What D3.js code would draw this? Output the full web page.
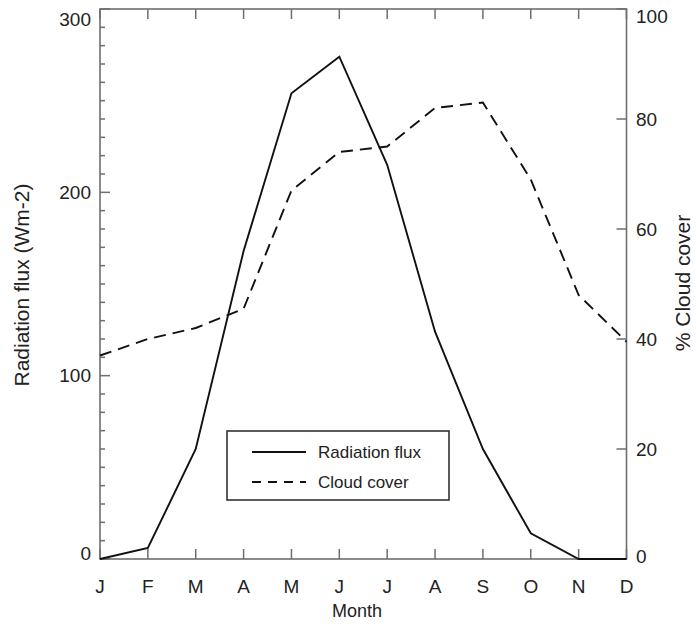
<!DOCTYPE html>
<html>
<head>
<meta charset="utf-8">
<script src="https://cdn.jsdelivr.net/npm/d3@7/dist/d3.min.js"></script>
<style>
  html, body { margin: 0; padding: 0; background: #fff; }
  text { font-family: "Liberation Sans", Arial, Helvetica, sans-serif; fill: #222; }
</style>
</head>
<body>
<svg id="chart" width="696" height="633"></svg>
<script>
const months = ["J","F","M","A","M","J","J","A","S","O","N","D"];
const radiation = [0, 6, 60, 168, 254, 274, 215, 124, 60, 14, 0, 0];
const cloud = [37, 40, 42, 45.5, 67, 74, 75, 82, 83, 69, 48, 39.5];
const leftTicks = [0, 100, 200, 300];
const rightTicks = [0, 20, 40, 60, 80, 100];
const seriesNames = ["Radiation flux", "Cloud cover"];

const svg = d3.select("#chart");
const L = 100, R = 626.5, T = 9, B = 559;
const axisColor = "#6e6e6e";

const x = d3.scaleLinear().domain([0, 11]).range([L, R]);
const yL = d3.scaleLinear().domain([0, 300]).range([B, T]);
const yR = d3.scaleLinear().domain([0, 100]).range([B, T]);
const idx = d3.range(12);

// frame
svg.append("rect").attr("x", L).attr("y", T).attr("width", R - L).attr("height", B - T)
  .attr("fill", "none").attr("stroke", axisColor).attr("stroke-width", 1.6);

// left ticks (minor every 10, major every 100)
const g = svg.append("g").attr("stroke", axisColor).attr("stroke-width", 1.5);
d3.range(0, 301, 10).forEach(v => {
  const len = v % 100 === 0 ? 10 : 5;
  g.append("line").attr("x1", L).attr("x2", L + len).attr("y1", yL(v)).attr("y2", yL(v));
});
// right ticks
rightTicks.forEach(v => {
  g.append("line").attr("x1", R).attr("x2", R - 10).attr("y1", yR(v)).attr("y2", yR(v));
});
// month ticks bottom and top
idx.forEach(i => {
  g.append("line").attr("x1", x(i)).attr("x2", x(i)).attr("y1", B).attr("y2", B - 10);
  g.append("line").attr("x1", x(i)).attr("x2", x(i)).attr("y1", T).attr("y2", T + 10);
});

// tick labels
const lab = svg.append("g").attr("font-size", 19);
leftTicks.forEach(v => {
  let yy = yL(v);
  if (v === 300) yy += 10;
  if (v === 0) yy -= 6;
  lab.append("text").attr("x", 91).attr("y", yy).attr("dy", "0.35em")
    .attr("text-anchor", "end").text(v);
});
rightTicks.forEach(v => {
  let yy = yR(v);
  if (v === 100) yy += 7;
  if (v === 0) yy -= 3;
  lab.append("text").attr("x", 636).attr("y", yy).attr("dy", "0.35em")
    .attr("text-anchor", "start").text(v);
});
idx.forEach(i => {
  lab.append("text").attr("x", x(i)).attr("y", 586).attr("dy", "0.35em")
    .attr("text-anchor", "middle").text(months[i]);
});

// axis titles
svg.append("text").attr("x", 357).attr("y", 617).attr("text-anchor", "middle")
  .attr("font-size", 18).text("Month");
svg.append("text").attr("transform", "translate(29,285) rotate(-90)")
  .attr("text-anchor", "middle").attr("font-size", 21).text("Radiation flux (Wm-2)");
svg.append("text").attr("transform", "translate(690,283) rotate(-90)")
  .attr("text-anchor", "middle").attr("font-size", 21).text("% Cloud cover");

// lines
const lineL = d3.line().x((d, i) => x(i)).y(d => yL(d));
const lineR = d3.line().x((d, i) => x(i)).y(d => yR(d));
svg.append("path").datum(radiation).attr("d", lineL)
  .attr("fill", "none").attr("stroke", "#111").attr("stroke-width", 1.9);
svg.append("path").datum(cloud).attr("d", lineR)
  .attr("fill", "none").attr("stroke", "#111").attr("stroke-width", 1.9)
  .attr("stroke-dasharray", "12,7");

// legend
const lg = svg.append("g");
lg.append("rect").attr("x", 227).attr("y", 431).attr("width", 222).attr("height", 69)
  .attr("fill", "#fff").attr("stroke", "#333").attr("stroke-width", 1.6);
lg.append("line").attr("x1", 252).attr("x2", 306).attr("y1", 452).attr("y2", 452)
  .attr("stroke", "#111").attr("stroke-width", 1.9);
lg.append("line").attr("x1", 252).attr("x2", 306).attr("y1", 482).attr("y2", 482)
  .attr("stroke", "#111").attr("stroke-width", 1.9).attr("stroke-dasharray", "9,7");
lg.append("text").attr("x", 318).attr("y", 452).attr("dy", "0.35em")
  .attr("font-size", 17).text(seriesNames[0]);
lg.append("text").attr("x", 318).attr("y", 482).attr("dy", "0.35em")
  .attr("font-size", 17).text(seriesNames[1]);
</script>
</body>
</html>
